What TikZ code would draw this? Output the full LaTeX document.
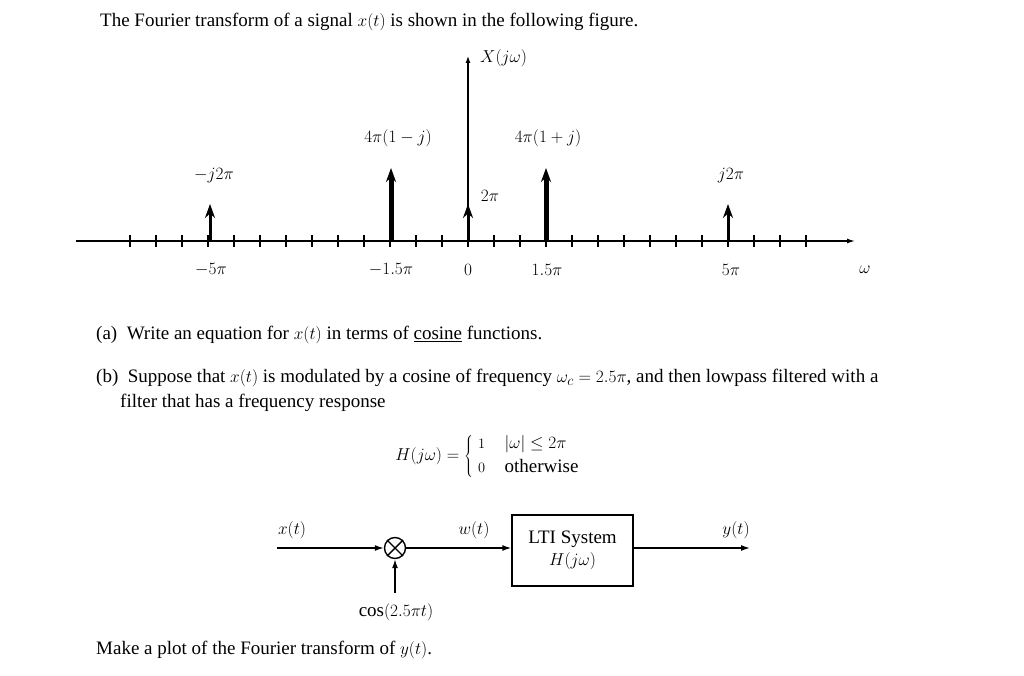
\documentclass[tikz,border=0pt]{standalone}
\usepackage{fontspec}
\setmainfont{Liberation Serif}
\usetikzlibrary{arrows.meta}
\begin{document}
\begin{tikzpicture}[x=1pt,y=-1pt,
  txt/.style={inner sep=0pt,font=\fontsize{19}{22}\selectfont},
  imp/.style={line width=#1,-{Stealth[length=14pt,width=10pt]}},
  sig/.style={line width=1.4pt,-{Latex[length=9pt,width=6pt]}}]
\useasboundingbox (0,0) rectangle (1024,676);
\node[txt,anchor=west] (title) at (100,22) {The Fourier transform of a signal $x(t)$ is shown in the following figure.};
% axes
\coordinate (al) at (76,241); \coordinate (ar) at (855,241);
\coordinate (o) at (468,241); \coordinate (vt) at (468,56);
\draw[line width=1.3pt,-{Latex[length=8pt,width=5pt]}] (al) -- (ar);
\draw[line width=1.1pt,-{Latex[length=7pt,width=5pt]}] (o) -- (vt);
\foreach \k in {-13,...,13} \draw[line width=1.1pt] (468+26*\k,235) -- (468+26*\k,247);
\node[txt,anchor=west] (X) at (480,58) {$X(j\omega)$};
% impulses
\coordinate (b1) at (391,241); \coordinate (t1) at (391,168);
\coordinate (b2) at (546,241); \coordinate (t2) at (546,168);
\coordinate (b0) at (468,241); \coordinate (t0) at (468,204);
\coordinate (bm) at (210,241); \coordinate (tm) at (210,204);
\coordinate (bp) at (728,241); \coordinate (tp) at (728,204);
\draw[imp=5pt] (b1) -- (t1);
\draw[imp=5pt] (b2) -- (t2);
\draw[imp=3pt] (b0) -- (t0);
\draw[imp=3pt] (bm) -- (tm);
\draw[imp=3pt] (bp) -- (tp);
\node[txt] (l1) at (398,138) {$4\pi(1-j)$};
\node[txt] (l2) at (548,138) {$4\pi(1+j)$};
\node[txt] (lm) at (214,176) {$-j2\pi$};
\node[txt] (lp) at (731,176) {$j2\pi$};
\node[txt] (l0) at (490,196) {$2\pi$};
\node[txt] (a1) at (211,270) {$-5\pi$};
\node[txt] (a2) at (391,270) {$-1.5\pi$};
\node[txt] (a3) at (468,270) {$0$};
\node[txt] (a4) at (547,270) {$1.5\pi$};
\node[txt] (a5) at (731,270) {$5\pi$};
\node[txt] (a6) at (865,270) {$\omega$};
% text
\node[txt,anchor=west] (qa) at (96,335) {(a)\ \ Write an equation for $x(t)$ in terms of \underline{cosine} functions.};
\node[txt,anchor=west] (qb) at (96,378) {(b)\ \ Suppose that $x(t)$ is modulated by a cosine of frequency $\omega_c=2.5\pi$, and then lowpass filtered with a};
\node[txt,anchor=west] (qb2) at (120,403) {filter that has a frequency response};
\node[txt] (H) at (490,456) {$H(j\omega)=\left\{\begin{array}{ll}\scriptstyle 1 & \ \ |\omega|\le 2\pi\\[2pt] \scriptstyle 0 & \ \ \mbox{otherwise}\end{array}\right.$};
% block diagram
\coordinate (xin) at (277,548);
\node[draw,line width=1.4pt,circle,minimum size=21pt,inner sep=0pt] (m) at (395,548) {};
\draw[line width=1.4pt] (m.north west) -- (m.south east) (m.north east) -- (m.south west);
\node[draw,line width=1.4pt,minimum width=121pt,minimum height=71pt,txt,align=center] (lti) at (572.5,550.5) {LTI System\\$H(j\omega)$};
\coordinate (yout) at (750,548);
\coordinate (cin) at (395,593);
\draw[sig] (xin) -- (m);
\draw[sig] (m) -- (lti.west|-m);
\draw[sig] (lti.east|-m) -- (yout);
\draw[sig] (cin) -- (m);
\node[txt] (xl) at (292,530) {$x(t)$};
\node[txt] (wl) at (474,530) {$w(t)$};
\node[txt] (yl) at (736,530) {$y(t)$};
\node[txt] (cl) at (396,612) {$\cos(2.5\pi t)$};
\node[txt,anchor=west] (mk) at (96,650) {Make a plot of the Fourier transform of $y(t)$.};
\end{tikzpicture}
\end{document}
